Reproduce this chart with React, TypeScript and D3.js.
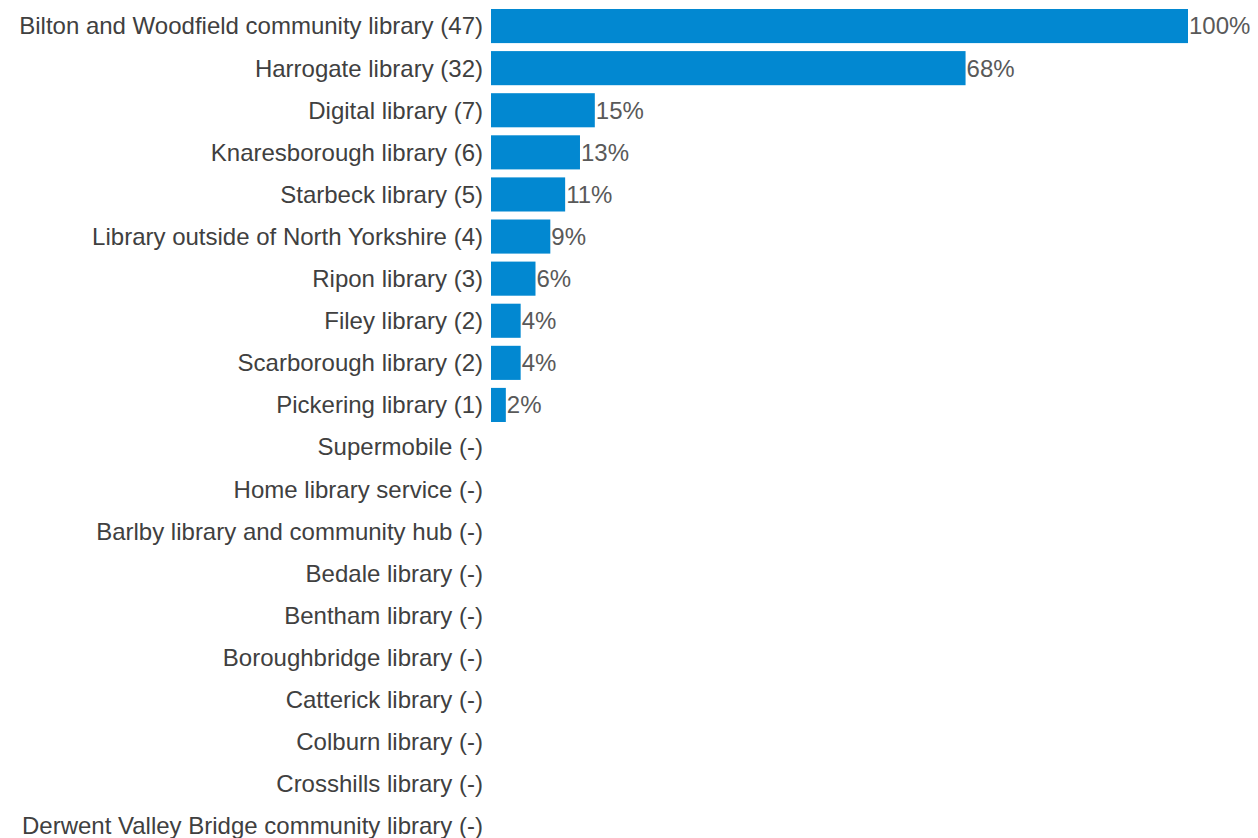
import React from "react";
import * as d3 from "d3";

const categories = [
  "Bilton and Woodfield community library",
  "Harrogate library",
  "Digital library",
  "Knaresborough library",
  "Starbeck library",
  "Library outside of North Yorkshire",
  "Ripon library",
  "Filey library",
  "Scarborough library",
  "Pickering library",
  "Supermobile",
  "Home library service",
  "Barlby library and community hub",
  "Bedale library",
  "Bentham library",
  "Boroughbridge library",
  "Catterick library",
  "Colburn library",
  "Crosshills library",
  "Derwent Valley Bridge community library",
];
const counts: (number | null)[] = [47, 32, 7, 6, 5, 4, 3, 2, 2, 1, null, null, null, null, null, null, null, null, null, null];

const W = 1258;
const H = 838;

export default function App() {
  const max = d3.max(counts.map((c) => c ?? 0)) as number;
  const x = d3.scaleLinear().domain([0, 1]).range([491, 1188]);
  const y = d3.scaleBand<string>().domain(categories).range([5, 847]).paddingInner(0.19).paddingOuter(0.095);
  const bw = y.bandwidth();
  return (
    <svg width={W} height={H} style={{ position: "absolute", left: 0, top: 0 }} fontFamily="'Liberation Sans', Arial, sans-serif">
      {categories.map((c, i) => {
        const v = counts[i];
        const yc = (y(c) as number) + bw / 2;
        const p = v == null ? 0 : v / max;
        return (
          <g key={c}>
            <text x={483} y={yc} dy="0.35em" textAnchor="end" fontSize={24} fill="#404040">
              {c} ({v == null ? "-" : v})
            </text>
            {v != null && (
              <>
                <rect x={x(0)} y={y(c)} width={x(p) - x(0)} height={bw} fill="#0288D1" />
                <text x={x(p) + 1} y={yc} dy="0.35em" fontSize={24} fill="#595959">
                  {d3.format(".0%")(p)}
                </text>
              </>
            )}
          </g>
        );
      })}
    </svg>
  );
}
